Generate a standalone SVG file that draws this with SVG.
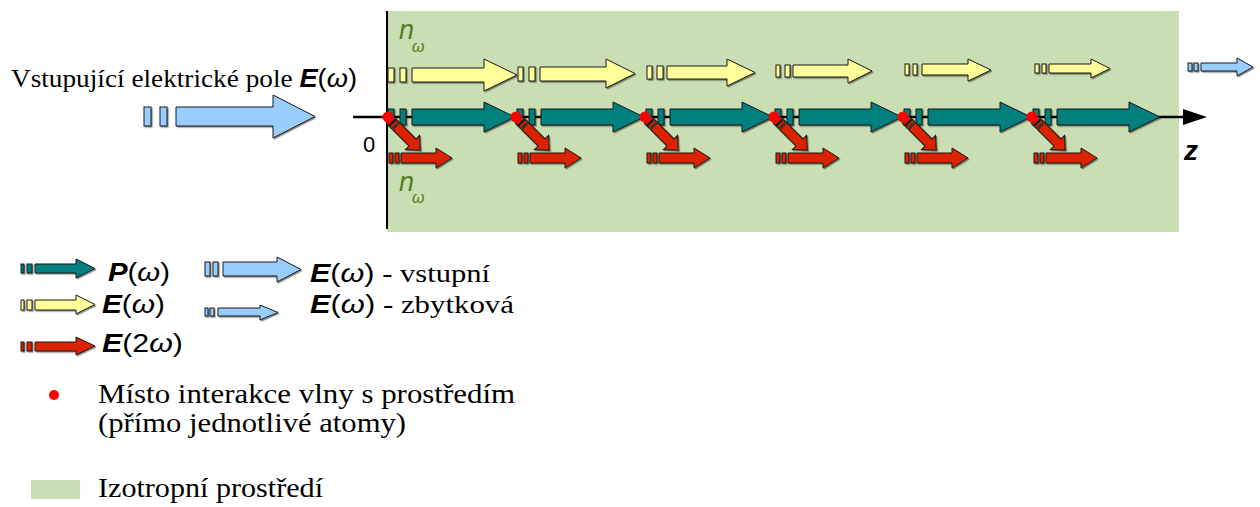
<svg xmlns="http://www.w3.org/2000/svg" xmlns:xlink="http://www.w3.org/1999/xlink" width="1260" height="507" viewBox="0 0 1260 507">
<style>
.ar{stroke:#1a1a1a;stroke-width:1;filter:url(#sh)}
.teal{fill:#007F7F}
.yel{fill:#FFFF99}
.red{fill:#DD2200}
.blue{fill:#99CCFF}
.serif{font-family:"Liberation Serif","Times New Roman",serif}
.sans{font-family:"Liberation Sans",Arial,sans-serif}
.bi{font-weight:bold;font-style:italic}
.it{font-style:italic}
.dot{fill:#FF0000}
.n{font-family:"Liberation Sans",Arial,sans-serif;font-style:italic;fill:#4F7F1F}
</style>
<defs>
<filter id="sh" x="-20%" y="-30%" width="140%" height="160%">
<feDropShadow dx="1.2" dy="1.2" stdDeviation="0.4" flood-color="#000" flood-opacity="0.45"/>
</filter>
<g id="diag">
<g transform="rotate(45)">
<rect x="4" y="-5" width="3" height="10"/>
<rect x="8.5" y="-5" width="3" height="10"/>
<path d="M13,-5 L36,-5 L36,-10 L47,0 L36,10 L36,5 L13,5 Z"/>
</g>
</g>
<g id="hred">
<rect x="2" y="153" width="4" height="10"/>
<rect x="8" y="153" width="4" height="10"/>
<path d="M14,153 L49,153 L49,148 L65,158 L49,168 L49,163 L14,163 Z"/>
</g>
<g id="teal">
<rect x="1" y="109" width="6" height="16"/>
<rect x="13" y="109" width="6" height="16"/>
<path d="M25,109 L97,109 L97,102 L128,117 L97,132 L97,125 L25,125 Z"/>
</g>
</defs>

<g id="medium">
<rect x="387" y="11" width="792" height="221" fill="#C9DEB3"/>
<line x1="387" y1="11" x2="387" y2="229" stroke="#000" stroke-width="2"/>
</g>

<g id="input">
<text class="serif" x="11" y="87" font-size="25" fill="#000" textLength="346" lengthAdjust="spacingAndGlyphs">Vstupující elektrické pole <tspan class="sans bi">E</tspan><tspan class="sans">(</tspan><tspan class="sans it">ω</tspan><tspan class="sans">)</tspan></text>
<g class="ar blue">
<rect x="144" y="107" width="7" height="19"/>
<rect x="160" y="107" width="7" height="19"/>
<path d="M176,107 L273,107 L273,95 L315,116.5 L273,138 L273,126 L176,126 Z"/>
</g>
</g>

<g id="axis">
<line x1="353" y1="117" x2="1186" y2="117" stroke="#000" stroke-width="2.5"/>
<polygon points="1183,109 1207,117 1183,125" fill="#000"/>
<text class="sans" x="363" y="152" font-size="22" fill="#000">0</text>
<text class="sans bi" x="1184" y="160" font-size="28" fill="#000">z</text>
</g>

<g id="labels-n">
<text class="n" x="399" y="39" font-size="27">n</text>
<text class="n" x="412" y="52" font-size="16">ω</text>
<text class="n" x="399" y="191" font-size="27">n</text>
<text class="n" x="412" y="203" font-size="16">ω</text>
</g>

<g id="connectors">
<g id="yellow" class="ar yel">
<rect x="388" y="68" width="6" height="14"/><rect x="400" y="68" width="6" height="14"/>
<path d="M412,68 L484,68 L484,59 L517,75 L484,91 L484,82 L412,82 Z"/>
<rect x="518" y="67" width="5" height="14"/><rect x="529" y="67" width="6" height="14"/>
<path d="M540,67 L606,67 L606,59 L635,73.5 L606,88 L606,81 L540,81 Z"/>
<rect x="647" y="66" width="5" height="13"/><rect x="657" y="66" width="6" height="13"/>
<path d="M667,66 L727,66 L727,59 L755,72.5 L727,86 L727,79 L667,79 Z"/>
<rect x="776" y="65" width="4" height="12"/><rect x="785" y="65" width="5" height="12"/>
<path d="M793,65 L848,65 L848,59 L872,71 L848,83 L848,77 L793,77 Z"/>
<rect x="905" y="64" width="4" height="11"/><rect x="913" y="64" width="4" height="11"/>
<path d="M922,64 L968,64 L968,59 L991,70 L968,81 L968,75 L922,75 Z"/>
<rect x="1035" y="64" width="4" height="9"/><rect x="1042" y="64" width="4" height="9"/>
<path d="M1049,64 L1091,64 L1091,59 L1110,68.5 L1091,78 L1091,73 L1049,73 Z"/>
</g>
<g id="residual" class="ar blue">
<rect x="1188" y="63" width="4" height="8"/><rect x="1194" y="63" width="4" height="8"/>
<path d="M1201,63 L1237,63 L1237,58 L1253,67 L1237,76 L1237,71 L1201,71 Z"/>
</g>
<g id="polarization" class="ar teal">
<use xlink:href="#teal" x="387"/>
<use xlink:href="#teal" x="516"/>
<use xlink:href="#teal" x="645"/>
<use xlink:href="#teal" x="774"/>
<use xlink:href="#teal" x="903"/>
<use xlink:href="#teal" x="1032"/>
</g>
<g id="shg" class="ar red">
<use xlink:href="#hred" x="387"/>
<use xlink:href="#hred" x="516"/>
<use xlink:href="#hred" x="645"/>
<use xlink:href="#hred" x="774"/>
<use xlink:href="#hred" x="903"/>
<use xlink:href="#hred" x="1032"/>
<use xlink:href="#diag" transform="translate(387,117)"/>
<use xlink:href="#diag" transform="translate(516,117)"/>
<use xlink:href="#diag" transform="translate(645,117)"/>
<use xlink:href="#diag" transform="translate(774,117)"/>
<use xlink:href="#diag" transform="translate(903,117)"/>
<use xlink:href="#diag" transform="translate(1032,117)"/>
</g>
</g>

<g id="atoms" class="dot">
<circle cx="388" cy="117" r="5.5"/>
<circle cx="516" cy="117" r="5.5"/>
<circle cx="645" cy="117" r="5.5"/>
<circle cx="774" cy="117" r="5.5"/>
<circle cx="903" cy="117" r="5.5"/>
<circle cx="1032" cy="117" r="5.5"/>
</g>

<g id="legend-P">
<g class="ar teal">
<rect x="21" y="264" width="3" height="9"/><rect x="27" y="264" width="5" height="9"/>
<path d="M35,264 L76,264 L76,259 L95,268.5 L76,278 L76,273 L35,273 Z"/>
</g>
<text class="sans" x="108" y="281" font-size="26" textLength="62" lengthAdjust="spacingAndGlyphs"><tspan class="bi">P</tspan>(<tspan class="it">ω</tspan>)</text>
</g>
<g id="legend-E">
<g class="ar yel">
<rect x="21" y="300" width="3" height="10"/><rect x="27" y="300" width="5" height="10"/>
<path d="M35,300 L76,300 L76,295 L95,304.5 L76,314 L76,310 L35,310 Z"/>
</g>
<text class="sans" x="102" y="313" font-size="26" textLength="63" lengthAdjust="spacingAndGlyphs"><tspan class="bi">E</tspan>(<tspan class="it">ω</tspan>)</text>
</g>
<g id="legend-E2">
<g class="ar red">
<rect x="21" y="342" width="3" height="9"/><rect x="27" y="342" width="5" height="9"/>
<path d="M35,342 L76,342 L76,337 L95,346 L76,355 L76,351 L35,351 Z"/>
</g>
<text class="sans" x="102" y="352" font-size="26" textLength="81" lengthAdjust="spacingAndGlyphs"><tspan class="bi">E</tspan>(2<tspan class="it">ω</tspan>)</text>
</g>
<g id="legend-in">
<g class="ar blue">
<rect x="205" y="262" width="5" height="14"/><rect x="213" y="262" width="5" height="14"/>
<path d="M223,262 L277,262 L277,257 L301,269.5 L277,282 L277,276 L223,276 Z"/>
</g>
<text class="sans" x="310" y="282" font-size="26" textLength="180" lengthAdjust="spacingAndGlyphs"><tspan class="bi">E</tspan>(<tspan class="it">ω</tspan>)<tspan class="serif"> - vstupní</tspan></text>
</g>
<g id="legend-res">
<g class="ar blue">
<rect x="205" y="308" width="3" height="8"/><rect x="210" y="308" width="4" height="8"/>
<path d="M218,308 L260,308 L260,305 L278,312.5 L260,320 L260,316 L218,316 Z"/>
</g>
<text class="sans" x="310" y="313" font-size="26" textLength="204" lengthAdjust="spacingAndGlyphs"><tspan class="bi">E</tspan>(<tspan class="it">ω</tspan>)<tspan class="serif"> - zbytková</tspan></text>
</g>
<g id="legend-dot">
<circle class="dot" cx="54" cy="395" r="5"/>
<text class="serif" x="98" y="403" font-size="28" textLength="417" lengthAdjust="spacingAndGlyphs">Místo interakce vlny s prostředím</text>
<text class="serif" x="98" y="432" font-size="28" textLength="308" lengthAdjust="spacingAndGlyphs">(přímo jednotlivé atomy)</text>
</g>
<g id="legend-medium">
<rect x="31" y="480" width="49" height="19" fill="#C9DEB3"/>
<text class="serif" x="98" y="497" font-size="28" textLength="225" lengthAdjust="spacingAndGlyphs">Izotropní prostředí</text>
</g>
</svg>
